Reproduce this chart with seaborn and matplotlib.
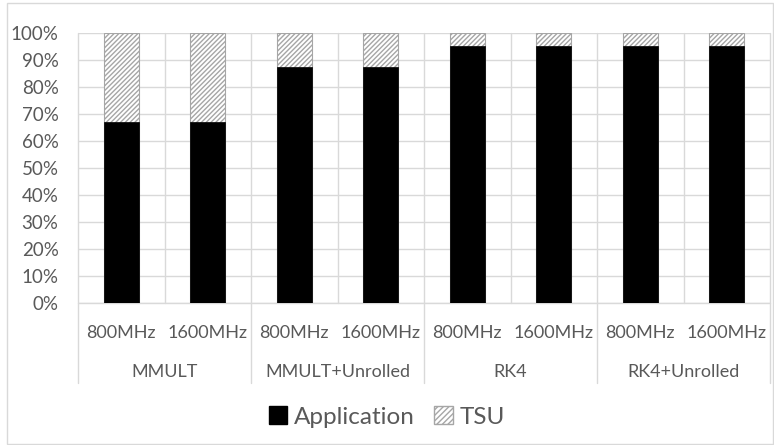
import pandas as pd
import matplotlib.pyplot as plt
import matplotlib.transforms as mtransforms
from matplotlib.patches import Patch, Rectangle
import seaborn as sns

groups = ['MMULT', 'MMULT+Unrolled', 'RK4', 'RK4+Unrolled']
freqs = ['800MHz', '1600MHz']
application = [67, 67, 87.5, 87.5, 95.3, 95.3, 95.3, 95.3]
tsu = [33, 33, 12.5, 12.5, 4.7, 4.7, 4.7, 4.7]

keys = [g + '|' + f for g in groups for f in freqs]
data = pd.DataFrame({'key': keys, 'Application': application,
                     'Total': [a + t for a, t in zip(application, tsu)]})

sns.set_style('white')
plt.rcParams['font.family'] = ['Lato', 'DejaVu Sans']
plt.rcParams['hatch.color'] = '#b0b0b0'
txt = '#595959'
grid = '#d9d9d9'

fig = plt.figure(figsize=(7.74, 4.45), dpi=100)
ax = fig.add_axes([78 / 774, 1 - 303 / 445, 692 / 774, 270 / 445])

sns.barplot(data=data, x='key', y='Total', order=keys, color='white',
            edgecolor='#a6a6a6', linewidth=0.8, hatch='///////', width=0.4,
            ax=ax, zorder=3)
sns.barplot(data=data, x='key', y='Application', order=keys, color='black',
            edgecolor='black', linewidth=0.5, width=0.4, ax=ax, zorder=4)

ax.set_xlim(-0.5, len(keys) - 0.5)
ax.set_ylim(0, 100)
ax.set_yticks(range(0, 101, 10))
ax.set_yticklabels([f'{v}%' for v in range(0, 101, 10)], color=txt, fontsize=13.5)
ax.yaxis.grid(True, color=grid, linewidth=1, zorder=0)
ax.set_axisbelow(True)
for s in ax.spines.values():
    s.set_visible(False)
ax.tick_params(axis='y', length=0, pad=14)
ax.set_xticks([])
ax.set_xlabel('')
ax.set_ylabel('')

trans = mtransforms.blended_transform_factory(ax.transData, ax.transAxes)
for i in range(len(keys) + 1):
    x = i - 0.5
    if i % 2 == 0:
        ax.plot([x, x], [-80 / 270, 1], color=grid, lw=1, transform=trans,
                clip_on=False, zorder=1)
    else:
        ax.plot([x, x], [0, 1], color=grid, lw=1, transform=trans,
                clip_on=False, zorder=1)
ax.plot([-0.5, len(keys) - 0.5], [0, 0], color=grid, lw=1, transform=trans,
        clip_on=False, zorder=1)

for i, k in enumerate(keys):
    ax.text(i, -30 / 270, k.split('|')[1], transform=trans, ha='center',
            va='center', color=txt, fontsize=13)
for j, g in enumerate(groups):
    ax.text(2 * j + 0.5, -69 / 270, g, transform=trans, ha='center',
            va='center', color=txt, fontsize=13)

handles = [Patch(facecolor='black', edgecolor='black', label='Application'),
           Patch(facecolor='white', edgecolor='#a6a6a6', hatch='//////', label='TSU')]
fig.legend(handles=handles, loc='center', bbox_to_anchor=(0.5, 1 - 417 / 445),
           ncol=2, frameon=False, fontsize=17.5, labelcolor=txt, handlelength=0.75,
           handleheight=0.75, handletextpad=0.3, columnspacing=0.8)

fig.patches.append(Rectangle((7 / 774, 1 / 445), 766 / 774, 441 / 445,
                             transform=fig.transFigure, fill=False,
                             edgecolor=grid, lw=1))

fig.savefig('out.png', dpi=100)
